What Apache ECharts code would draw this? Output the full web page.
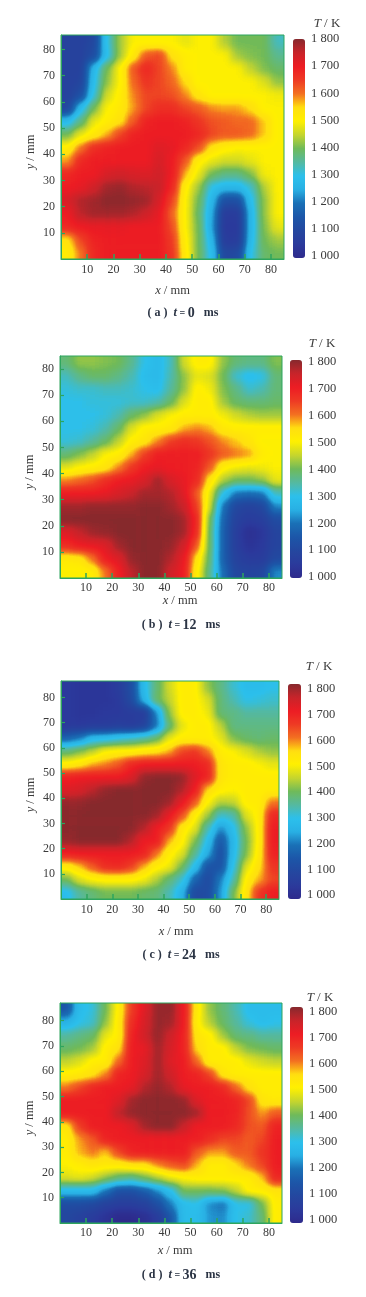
<!DOCTYPE html>
<html><head><meta charset="utf-8">
<style>
html,body{margin:0;padding:0;background:#fff;width:366px;height:1297px;overflow:hidden}
#top{position:absolute;left:0;top:0;width:366px;height:1297px;filter:blur(0.35px)}
.clip{position:absolute;overflow:hidden}
.heat{position:absolute;filter:blur(4.5px) url(#ramp)}
</style>
<script src="https://cdn.jsdelivr.net/npm/echarts@6/dist/echarts.min.js"></script>
</head><body>
<svg width="0" height="0" style="position:absolute"><filter id="ramp" color-interpolation-filters="sRGB" x="0" y="0" width="100%" height="100%"><feComponentTransfer id="rampFn"><feFuncR id="fR" type="table"/><feFuncG id="fG" type="table"/><feFuncB id="fB" type="table"/></feComponentTransfer></filter></svg>
<div id="layers"></div>
<div id="top"></div>
<script>
// Temperature (K): rows run from y = 82.5 mm (top) to y = 2.5 mm,
// columns from x = 2.5 mm to x = 82.5 mm, every 5 mm.
const panelA = [
[1080,1080,1100,1300,1430,1500,1500,1500,1500,1480,1500,1500,1440,1400,1400,1400,1330],
[1080,1080,1120,1290,1430,1520,1620,1640,1540,1510,1500,1500,1500,1430,1410,1400,1360],
[1080,1080,1270,1400,1500,1620,1680,1640,1590,1510,1500,1500,1500,1500,1450,1410,1390],
[1080,1090,1290,1420,1500,1610,1660,1640,1610,1550,1500,1500,1500,1500,1500,1470,1420],
[1080,1130,1310,1460,1510,1590,1640,1640,1630,1590,1530,1500,1500,1500,1500,1500,1490],
[1100,1280,1400,1500,1520,1580,1640,1670,1670,1640,1620,1590,1580,1580,1550,1500,1500],
[1280,1370,1480,1510,1540,1620,1690,1700,1700,1690,1660,1630,1620,1610,1610,1560,1500],
[1400,1480,1520,1570,1640,1690,1700,1700,1700,1700,1680,1640,1620,1620,1610,1560,1500],
[1510,1600,1670,1690,1700,1700,1700,1720,1710,1680,1630,1540,1510,1500,1500,1500,1500],
[1580,1680,1700,1700,1700,1700,1700,1730,1700,1620,1510,1480,1460,1460,1480,1500,1500],
[1680,1700,1700,1730,1740,1730,1720,1740,1700,1570,1480,1400,1370,1370,1410,1490,1500],
[1700,1710,1740,1780,1790,1770,1760,1750,1680,1510,1430,1300,1270,1270,1320,1440,1500],
[1730,1770,1780,1800,1800,1790,1780,1730,1640,1500,1400,1270,1130,1130,1290,1420,1500],
[1700,1760,1780,1780,1780,1770,1740,1710,1610,1500,1390,1250,1060,1060,1270,1420,1500],
[1680,1700,1710,1710,1710,1700,1700,1700,1630,1500,1400,1240,1050,1050,1270,1410,1480],
[1540,1640,1690,1700,1700,1700,1700,1700,1650,1510,1400,1270,1060,1060,1280,1400,1430],
[1510,1600,1680,1700,1700,1700,1700,1700,1660,1520,1400,1290,1100,1110,1300,1390,1400]];
const panelB = [
[1380,1420,1420,1410,1400,1360,1300,1280,1330,1460,1510,1510,1420,1380,1370,1370,1410],
[1330,1370,1390,1390,1370,1340,1290,1280,1340,1420,1480,1470,1400,1320,1290,1300,1380],
[1310,1320,1320,1330,1330,1320,1300,1290,1350,1420,1510,1490,1410,1370,1320,1340,1380],
[1300,1300,1310,1310,1310,1320,1320,1340,1390,1470,1510,1510,1430,1390,1380,1380,1390],
[1300,1300,1300,1310,1340,1390,1420,1470,1500,1510,1510,1510,1490,1460,1440,1430,1430],
[1300,1300,1310,1340,1390,1470,1510,1510,1520,1570,1590,1570,1520,1510,1510,1510,1510],
[1310,1320,1350,1390,1450,1510,1530,1590,1650,1670,1660,1630,1590,1560,1530,1500,1500],
[1380,1410,1450,1500,1510,1570,1650,1700,1700,1700,1700,1660,1620,1600,1580,1510,1500],
[1470,1500,1510,1530,1590,1660,1700,1710,1700,1700,1690,1620,1510,1490,1480,1490,1500],
[1590,1610,1630,1670,1700,1710,1730,1780,1730,1710,1680,1530,1440,1400,1400,1420,1480],
[1700,1700,1700,1710,1730,1750,1780,1780,1770,1720,1620,1480,1300,1200,1190,1200,1330],
[1780,1780,1790,1790,1790,1790,1800,1800,1780,1750,1650,1460,1200,1100,1080,1100,1220],
[1800,1800,1800,1800,1800,1800,1800,1800,1800,1780,1680,1400,1180,1080,1060,1070,1120],
[1720,1750,1780,1790,1800,1800,1800,1800,1800,1780,1670,1390,1170,1070,1020,1040,1090],
[1670,1700,1710,1720,1780,1800,1800,1800,1790,1740,1620,1390,1170,1070,1030,1050,1090],
[1520,1530,1600,1700,1720,1790,1800,1800,1770,1710,1540,1380,1170,1080,1060,1060,1110],
[1500,1500,1510,1600,1690,1760,1800,1800,1740,1700,1510,1360,1190,1100,1090,1100,1220]];
const panelC = [
[1050,1040,1040,1040,1060,1120,1280,1380,1460,1510,1510,1420,1370,1320,1290,1290,1300],
[1050,1040,1040,1040,1050,1110,1260,1390,1450,1510,1510,1470,1380,1340,1300,1310,1320],
[1050,1040,1040,1050,1050,1060,1060,1220,1420,1510,1510,1490,1380,1370,1350,1350,1350],
[1050,1050,1060,1060,1070,1060,1080,1200,1380,1480,1510,1510,1450,1370,1370,1370,1370],
[1180,1210,1280,1290,1310,1330,1350,1390,1480,1510,1510,1510,1480,1410,1390,1380,1390],
[1380,1410,1450,1500,1510,1510,1530,1540,1570,1640,1660,1600,1510,1500,1470,1440,1420],
[1510,1530,1570,1590,1620,1680,1700,1700,1700,1700,1700,1680,1530,1510,1510,1500,1480],
[1690,1700,1700,1700,1700,1720,1790,1800,1800,1790,1720,1690,1530,1510,1510,1510,1510],
[1720,1730,1760,1790,1800,1800,1800,1800,1800,1770,1700,1550,1510,1500,1510,1510,1510],
[1790,1790,1800,1800,1800,1800,1800,1800,1780,1710,1620,1500,1440,1450,1510,1510,1600],
[1800,1800,1800,1800,1800,1800,1800,1780,1710,1630,1510,1430,1320,1340,1470,1510,1680],
[1800,1800,1800,1800,1800,1800,1770,1700,1660,1520,1480,1340,1220,1290,1420,1510,1700],
[1790,1800,1800,1800,1800,1770,1700,1700,1570,1510,1410,1290,1150,1270,1400,1510,1700],
[1690,1700,1700,1700,1700,1700,1690,1600,1510,1470,1360,1250,1130,1280,1410,1520,1690],
[1520,1560,1620,1670,1680,1650,1570,1510,1490,1400,1290,1140,1140,1300,1470,1540,1660],
[1400,1470,1500,1510,1510,1510,1490,1440,1380,1320,1180,1110,1210,1340,1510,1570,1640],
[1290,1350,1380,1400,1400,1400,1390,1380,1340,1260,1110,1120,1230,1400,1530,1660,1700]];
const panelD = [
[1150,1290,1310,1400,1510,1650,1720,1790,1790,1700,1520,1420,1380,1340,1290,1290,1290],
[1260,1300,1320,1420,1520,1670,1730,1790,1780,1700,1510,1440,1390,1350,1310,1290,1300],
[1350,1370,1390,1480,1510,1690,1740,1790,1740,1690,1530,1510,1430,1380,1370,1350,1350],
[1390,1400,1430,1510,1540,1700,1710,1780,1730,1690,1550,1510,1510,1450,1410,1400,1390],
[1450,1470,1510,1510,1610,1700,1720,1780,1720,1700,1610,1510,1510,1510,1480,1460,1450],
[1510,1520,1540,1590,1690,1700,1730,1780,1740,1700,1690,1640,1530,1510,1510,1510,1510],
[1600,1640,1680,1700,1700,1710,1770,1790,1770,1710,1700,1700,1680,1610,1540,1510,1510],
[1700,1700,1700,1700,1720,1780,1800,1800,1800,1790,1720,1700,1700,1690,1640,1530,1520],
[1700,1700,1700,1700,1760,1790,1800,1800,1800,1800,1780,1700,1700,1690,1630,1580,1620],
[1530,1650,1700,1700,1700,1720,1780,1800,1800,1750,1700,1700,1700,1680,1630,1620,1690],
[1510,1580,1620,1690,1700,1700,1700,1700,1700,1700,1700,1670,1640,1640,1620,1640,1700],
[1510,1570,1600,1560,1640,1690,1700,1700,1700,1700,1620,1580,1580,1620,1620,1660,1700],
[1500,1510,1530,1520,1520,1540,1540,1590,1620,1640,1570,1510,1510,1550,1600,1640,1700],
[1470,1480,1460,1420,1380,1360,1400,1440,1480,1500,1510,1510,1510,1510,1510,1560,1680],
[1280,1280,1280,1200,1130,1130,1160,1220,1290,1400,1400,1400,1410,1450,1510,1510,1530],
[1120,1120,1110,1080,1070,1070,1080,1130,1210,1290,1300,1220,1200,1300,1300,1400,1510],
[1100,1080,1060,1030,1000,1000,1020,1060,1150,1290,1290,1230,1220,1300,1320,1380,1510]];

const tempMin = 1000, tempMax = 1800;
const colorRamp = ['#2e2a8c','#2b3a9c','#24479f','#1c56a8','#1a70b6','#29b0e4','#2cc0ec','#55b9a0','#6fba5a','#c5d52e','#fff000','#ffdf10','#f37021','#ee3a24','#ed1c24','#c8242a','#87292d'];
const xTicks = [10,20,30,40,50,60,70,80];
const serif = '"Liberation Serif","DejaVu Serif",serif';
const ink = '#3a3a3a', tick = '#2ea55e', capInk = '#2b3444';

// The field is drawn as a value ramp, softened, then toned through the same colour ramp as the bar.
const chan = k => colorRamp.map(c => (parseInt(c.substr(1 + 2*k, 2), 16) / 255).toFixed(3)).join(' ');
document.getElementById('fR').setAttribute('tableValues', chan(0));
document.getElementById('fG').setAttribute('tableValues', chan(1));
document.getElementById('fB').setAttribute('tableValues', chan(2));

const panels = [
 {rows:panelA, tag:'a', ms:'0',  L:61,T:35,  R:284,B:259,  yMax:85.5, bar:[293,39,12,219],  lab:[39,217],  nameGap:25, xLab:5, xShift:0,  cap:[183,313],  tk:[327,24]},
 {rows:panelB, tag:'b', ms:'12', L:60,T:356, R:282,B:578,  yMax:85,   bar:[290,360,12,218], lab:[362,215], nameGap:16, xLab:4, xShift:18, cap:[181,625],  tk:[322,344]},
 {rows:panelC, tag:'c', ms:'24', L:61,T:681, R:279,B:899,  yMax:86.5, bar:[288,684,13,215], lab:[689,206], nameGap:26, xLab:5, xShift:12, cap:[181,955],  tk:[319,667]},
 {rows:panelD, tag:'d', ms:'36', L:60,T:1003,R:282,B:1223, yMax:87,   bar:[290,1007,13,216],lab:[1012,208],nameGap:21, xLab:4, xShift:8,  cap:[181,1275], tk:[320,998]}
];

const pad = 2;
panels.forEach(p => {
  const w = p.R - p.L, h = p.B - p.T, nx = p.rows[0].length, ny = p.rows.length;
  const cw = w / nx, ch = h / ny;
  const clip = document.createElement('div');
  clip.className = 'clip';
  clip.style.cssText = `left:${p.L}px;top:${p.T}px;width:${w}px;height:${h}px`;
  const d = document.createElement('div');
  d.className = 'heat';
  d.style.cssText = `left:${-pad*cw}px;top:${-pad*ch}px;width:${w + 2*pad*cw}px;height:${h + 2*pad*ch}px`;
  clip.appendChild(d);
  document.getElementById('layers').appendChild(clip);
  const data = [];
  for (let yi = -pad; yi < ny + pad; yi++) for (let xi = -pad; xi < nx + pad; xi++) {
    const r = p.rows[ny - 1 - Math.min(ny - 1, Math.max(0, yi))];
    data.push([xi + pad, yi + pad, r[Math.min(nx - 1, Math.max(0, xi))]]);
  }
  const xc = Array.from({length:nx + 2*pad}, (_, i) => i), yc = Array.from({length:ny + 2*pad}, (_, i) => i);
  const c = echarts.init(d, null, {renderer:'canvas'});
  c.setOption({
    animation:false,
    backgroundColor:'#808080',
    grid:{left:0,right:0,top:0,bottom:0},
    xAxis:{type:'category',data:xc,show:false},
    yAxis:{type:'category',data:yc,show:false},
    visualMap:{show:false,min:tempMin,max:tempMax,dimension:2,inRange:{color:['#000000','#ffffff']}},
    series:[{type:'heatmap',data,progressive:0,itemStyle:{borderWidth:0}}]
  });
});

const grids = [], xAxes = [], yAxes = [], vms = [], titles = [];
const nameStyle = extra => Object.assign({fontFamily:serif,fontSize:12.5,color:ink,rich:{i:{fontStyle:'italic',fontFamily:serif,fontSize:12.5,color:ink}}}, extra);
panels.forEach(p => {
  grids.push({left:p.L,top:p.T,width:p.R-p.L,height:p.B-p.T,show:true,borderColor:tick,borderWidth:1,backgroundColor:'transparent'});
  xAxes.push({gridIndex:grids.length-1,type:'value',min:0,max:85,interval:10,
    axisLine:{show:true,lineStyle:{color:tick}},
    axisTick:{inside:true,length:5,lineStyle:{color:tick,width:1.5}},splitLine:{show:false},
    axisLabel:{margin:p.xLab,fontFamily:serif,fontSize:12,color:ink,showMinLabel:false,showMaxLabel:false,
      formatter:v=>xTicks.includes(v)?String(v):''},
    name:'{i|x} / mm',nameLocation:'middle',nameGap:p.nameGap,nameMoveOverlap:false,
    nameTextStyle:nameStyle({padding:[0,0,0,p.xShift]})});
  yAxes.push({gridIndex:grids.length-1,type:'value',min:0,max:p.yMax,interval:10,
    axisLine:{show:true,lineStyle:{color:tick}},
    axisTick:{inside:true,length:4,lineStyle:{color:tick,width:1.2}},splitLine:{show:false},
    axisLabel:{margin:6,fontFamily:serif,fontSize:12,color:ink,showMinLabel:false,showMaxLabel:false,
      formatter:v=>xTicks.includes(v)?String(v):''},
    name:'{i|y} / mm',nameLocation:'middle',nameGap:24,nameRotate:90,nameMoveOverlap:false,
    nameTextStyle:nameStyle({padding:[0,10,0,0]})});
  const [bx,by,bw,bh] = p.bar;
  grids.push({left:bx,top:p.lab[0],width:bw,height:p.lab[1],show:false});
  xAxes.push({gridIndex:grids.length-1,type:'value',show:false,min:0,max:1});
  yAxes.push({gridIndex:grids.length-1,type:'value',position:'right',min:tempMin,max:tempMax,interval:100,
    axisLine:{show:false},axisTick:{show:false},splitLine:{show:false},
    axisLabel:{margin:6,fontFamily:serif,fontSize:12.5,color:ink,
      formatter:v=>String(v).replace(/^(\d)(\d{3})$/,'$1 $2')}});
  vms.push({type:'continuous',seriesIndex:[],min:tempMin,max:tempMax,left:bx,top:by,itemWidth:bw,itemHeight:bh,padding:0,
    calculable:false,realtime:false,hoverLink:false,text:null,showLabel:false,inRange:{color:colorRamp},textStyle:{fontSize:0}});
  titles.push({text:'{i|T} / K',left:p.tk[0],top:p.tk[1],textAlign:'center',textVerticalAlign:'middle',padding:0,
    textStyle:{fontFamily:serif,fontSize:13,fontWeight:'normal',color:ink,rich:{i:{fontFamily:serif,fontSize:13,fontStyle:'italic',color:ink}}}});
  titles.push({text:`( ${p.tag} )  {i|t}{e| = }{n|${p.ms}}   ms`,left:p.cap[0],top:p.cap[1],textAlign:'center',textVerticalAlign:'middle',padding:0,
    textStyle:{fontFamily:serif,fontSize:12,fontWeight:'bold',color:capInk,
      rich:{i:{fontFamily:serif,fontSize:12.5,fontStyle:'italic',fontWeight:'bold',color:capInk},
            e:{fontFamily:serif,fontSize:10,fontWeight:'bold',color:capInk},
            n:{fontFamily:serif,fontSize:14,color:capInk}}}});
});
const top_ = echarts.init(document.getElementById('top'), null, {renderer:'canvas'});
top_.setOption({animation:false,backgroundColor:'transparent',title:titles,grid:grids,xAxis:xAxes,yAxis:yAxes,visualMap:vms,series:[]});
</script>
</body></html>
